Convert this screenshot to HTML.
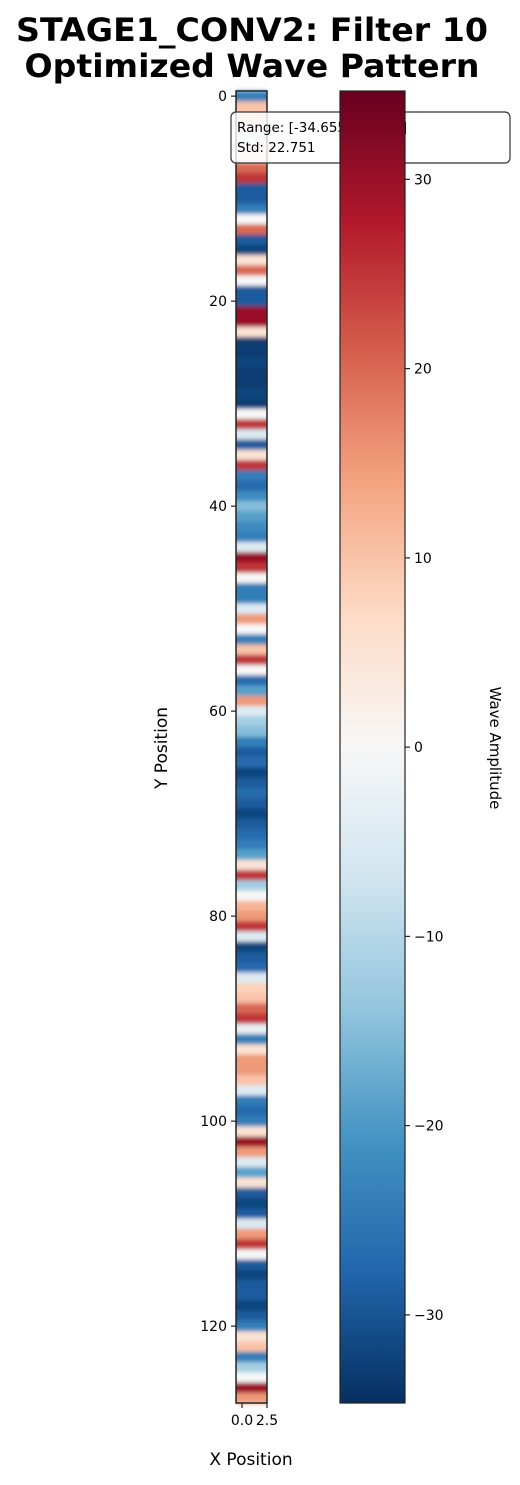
<!DOCTYPE html>
<html><head><meta charset="utf-8"><style>
body{margin:0;background:#fff;}
svg{display:block;font-family:"DejaVu Sans","Liberation Sans",sans-serif;}
</style></head><body>
<svg id="chart" width="520" height="1485" viewBox="0 0 520 1485" xmlns="http://www.w3.org/2000/svg">
<defs>
<linearGradient id="cbg" x1="0" y1="1" x2="0" y2="0">
<stop offset="0" stop-color="#053061"/><stop offset="0.1" stop-color="#2166ac"/><stop offset="0.2" stop-color="#4393c3"/><stop offset="0.3" stop-color="#92c5de"/><stop offset="0.4" stop-color="#d1e5f0"/><stop offset="0.5" stop-color="#f7f7f7"/><stop offset="0.6" stop-color="#fddbc7"/><stop offset="0.7" stop-color="#f4a582"/><stop offset="0.8" stop-color="#d6604d"/><stop offset="0.9" stop-color="#b2182b"/><stop offset="1" stop-color="#67001f"/>
</linearGradient>
<filter id="blur" x="0" y="-0.01" width="1" height="1.02"><feGaussianBlur stdDeviation="0 2"/></filter>
</defs>
<text x="252" y="41" text-anchor="middle" font-size="32" font-weight="bold" textLength="472" lengthAdjust="spacingAndGlyphs">STAGE1_CONV2: Filter 10</text>
<text x="252" y="77" text-anchor="middle" font-size="32" font-weight="bold" textLength="455" lengthAdjust="spacingAndGlyphs">Optimized Wave Pattern</text>
<g id="heat"></g>
<g id="yaxis"></g>
<g id="xaxis"></g>
<text transform="translate(167,748) rotate(-90)" text-anchor="middle" font-size="17">Y Position</text>
<text x="251" y="1465" text-anchor="middle" font-size="17">X Position</text>
<g>
<rect x="231" y="112" width="279" height="51" rx="5" fill="#fff" fill-opacity="0.8" stroke="#333" stroke-width="1.2"/>
<text x="237" y="132" font-size="13.5">Range: [-34.655, 34.668]</text>
<text x="237" y="152" font-size="13.5">Std: 22.751</text>
</g>
<g id="cbar"></g>
<text transform="translate(490,748) rotate(90)" text-anchor="middle" font-size="15">Wave Amplitude</text>
</svg>
<script>
const rowValues = [-24,10,8,5,-5,3,5,20,25,-29,-29,-24,0,20,-29,-32,5,20,0,-29,-29,30,30,5,-33,-33,-32,-33,-33,-32,-33,0,25,-5,-29,5,25,-24,-27,-22,-15,-19,-22,-24,-5,30,25,0,-24,-24,-5,15,0,-24,10,25,0,-27,-19,15,-5,-12,-15,-24,-29,-27,-32,-29,-27,-29,-32,-29,-27,-24,-19,5,25,-12,0,12,15,25,-5,-32,-29,-27,-5,8,10,20,25,-3,-24,5,15,15,10,-5,-24,-27,-24,5,30,15,-5,-19,5,-29,-32,-29,-5,15,25,0,-29,-32,-29,-29,-32,-29,-24,5,10,-24,-12,0,30,15];
const columns = [0,1,2];
const yTicks = [0,20,40,60,80,100,120];
const xTicks = [0.0,2.5];
const xTickLabels = ["0.0","2.5"];
const cbTicks = [-30,-20,-10,0,10,20,30];
const cbTickLabels = ["\u221230","\u221220","\u221210","0","10","20","30"];
const vmin = -34.655, vmax = 34.668;

const NS="http://www.w3.org/2000/svg";
const plotTop=91, plotBot=1403, plotLeft=236, plotRight=267;
const nRows=rowValues.length;
const rowH=(plotBot-plotTop)/nRows;
const yScale=v=>plotTop+(v+0.5)*rowH;
const xMin=-0.6, xMax=2.5;
const xScale=v=>plotLeft+(v-xMin)/(xMax-xMin)*(plotRight-plotLeft);
const stops=[[5,48,97],[33,102,172],[67,147,195],[146,197,222],[209,229,240],[247,247,247],[253,219,199],[244,165,130],[214,96,77],[178,24,43],[103,0,31]];
function color(v){let t=(v-vmin)/(vmax-vmin);t=Math.max(0,Math.min(1,t))*10;const i=Math.min(9,Math.floor(t)),f=t-i;const a=stops[i],b=stops[i+1];return `rgb(${a.map((c,k)=>Math.round(c+(b[k]-c)*f)).join(',')})`;}
function mk(tag,attrs,parent){const e=document.createElementNS(NS,tag);for(const k in attrs)e.setAttribute(k,attrs[k]);parent.appendChild(e);return e;}
const heat=document.getElementById('heat');
const rowsG=mk('g',{filter:'url(#blur)'},heat);
rowValues.forEach((v,i)=>{
  const r=mk('rect',{x:plotLeft,y:(yScale(i)-rowH/2).toFixed(2),width:plotRight-plotLeft,height:(rowH+0.6).toFixed(2),fill:color(v)},rowsG);
  
  
});
mk('rect',{x:plotLeft,y:plotTop,width:plotRight-plotLeft,height:plotBot-plotTop,fill:'none',stroke:'#222','stroke-width':1.5},heat);
const ya=document.getElementById('yaxis');
yTicks.forEach(t=>{const y=yScale(t);
  mk('line',{x1:plotLeft-5,x2:plotLeft,y1:y,y2:y,stroke:'#222','stroke-width':1.2},ya);
  const tx=mk('text',{x:plotLeft-9,y:y+5,'text-anchor':'end','font-size':14},ya);tx.textContent=t;
  
  
});
const xa=document.getElementById('xaxis');
xTicks.forEach((t,i)=>{const x=xScale(t);
  mk('line',{x1:x,x2:x,y1:plotBot,y2:plotBot+5,stroke:'#222','stroke-width':1.2},xa);
  const tx=mk('text',{x:x,y:plotBot+22,'text-anchor':'middle','font-size':14},xa);tx.textContent=xTickLabels[i];
  
  
});
const cb=document.getElementById('cbar');
const cbL=340,cbR=405;
const cbScale=v=>plotBot-(v-vmin)/(vmax-vmin)*(plotBot-plotTop);
mk('rect',{x:cbL,y:plotTop,width:cbR-cbL,height:plotBot-plotTop,fill:'url(#cbg)',stroke:'#222','stroke-width':1.2},cb);
cbTicks.forEach((t,i)=>{const y=cbScale(t);
  mk('line',{x1:cbR,x2:cbR+5,y1:y,y2:y,stroke:'#222','stroke-width':1.2},cb);
  const tx=mk('text',{x:cbR+9,y:y+5,'font-size':14},cb);tx.textContent=cbTickLabels[i];
  
  
});
</script>
</body></html>
